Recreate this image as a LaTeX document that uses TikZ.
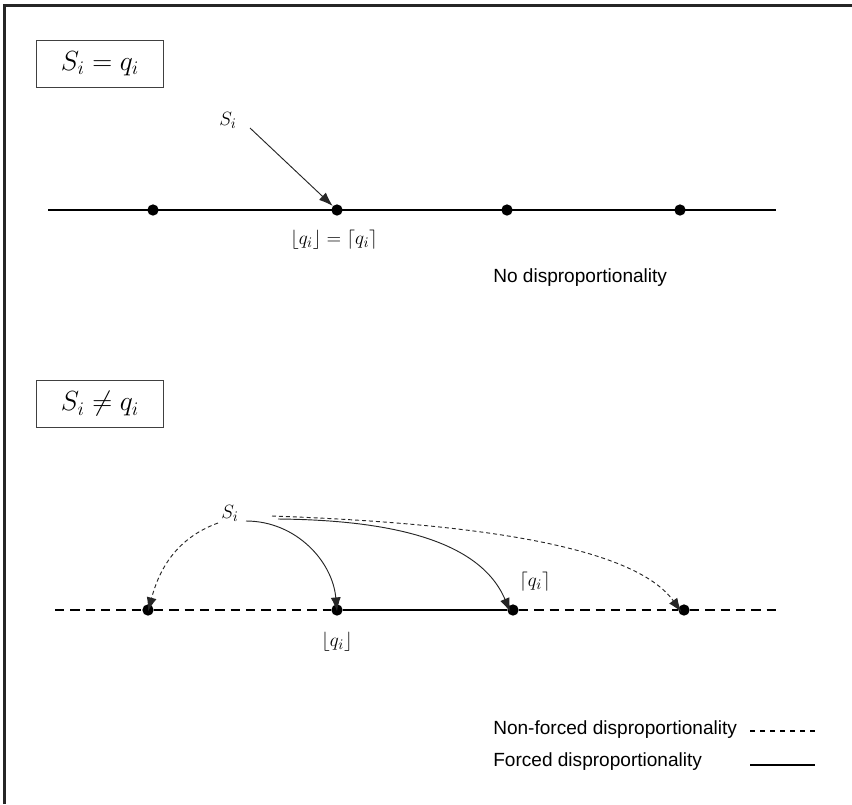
\documentclass[tikz,border=0pt]{standalone}
\usepackage{fontspec}
\newfontfamily\arialfont{Liberation Sans}
\usetikzlibrary{arrows.meta}
\tikzset{
  pt/.style={circle,fill=black,inner sep=0pt,minimum size=8.5},
  mathbox/.style={draw=black!75,line width=0.9pt,minimum width=127*0.75pt,minimum height=47*0.75pt,inner sep=0pt,font=\fontsize{21}{24}\selectfont},
  lbl/.style={inner sep=0pt,font=\fontsize{15.5}{18}\selectfont},
  sans/.style={inner sep=0pt,anchor=west,font=\arialfont\fontsize{14.3}{16}\selectfont},
  arr/.style={-{Latex[length=10.5pt,width=7.5pt]},line width=0.7pt,black!85},
  darr/.style={arr,dash pattern=on 3pt off 2.2pt},
  mainline/.style={line width=1.1pt},
  dline/.style={line width=1.1pt,dash pattern=on 7pt off 4.5pt},
}
\begin{document}
\begin{tikzpicture}[x=0.75pt,y=-0.75pt]
\useasboundingbox (0,0) rectangle (852,804);
\draw[line width=1.6pt,black!85] (4.5,804) -- (4.5,5.5) -- (852,5.5);
% top panel
\node[mathbox] (b1) at (100,64) {$S_i = q_i$};
\draw[mainline] (48,210) -- (776,210);
\node[pt] (a1) at (153,210) {};
\node[pt] (a2) at (337,210) {};
\node[pt] (a3) at (507,210) {};
\node[pt] (a4) at (680,210) {};
\node[lbl] (s1) at (228,120) {$S_i$};
\draw[arr] (250,128) -- (a2);
\node[lbl] (l1) at (334,240) {$\lfloor q_i\rfloor = \lceil q_i\rceil$};
\node[sans] (t1) at (493,278) {No disproportionality};
% bottom panel
\node[mathbox] (b2) at (100,404) {$S_i \neq q_i$};
\node[pt] (c1) at (148,610) {};
\node[pt] (c2) at (337,610) {};
\node[pt] (c3) at (513,610) {};
\node[pt] (c4) at (684,610) {};
\coordinate (L) at (55,610);
\coordinate (R) at (776,610);
\draw[dline] (L) -- (c1) -- (c2);
\draw[dline] (c3) -- (c4) -- (R);
\draw[mainline] (c2) -- (c3);
\node[lbl] (s2) at (230,513) {$S_i$};
\coordinate (o1) at (218,523);
\coordinate (o2) at (246,521);
\coordinate (o3) at (278,519);
\coordinate (o4) at (272,516);
\draw[darr] (o1) to[out=200,in=75] ([yshift=-5.5]c1.north);
\draw[arr] (o2) to[out=0,in=95] ([yshift=-5.5]c2.north);
\draw[arr] (o3) .. controls (390,520) and (480,540) .. ([xshift=-2,yshift=-6]c3.north);
\draw[darr] (o4) .. controls (440,522) and (630,540) .. ([xshift=-2,yshift=-6]c4.north);
\node[lbl] (l2) at (535,582) {$\lceil q_i\rceil$};
\node[lbl] (l3) at (337,642) {$\lfloor q_i\rfloor$};
% legend
\node[sans] (t2) at (493,730) {Non-forced disproportionality};
\node[sans] (t3) at (493,762) {Forced disproportionality};
\coordinate (d1) at (750,731);
\coordinate (d2) at (815,731);
\coordinate (f1) at (750,765);
\coordinate (f2) at (815,765);
\draw[line width=0.9pt,dash pattern=on 4pt off 3.5pt] (d1) -- (d2);
\draw[line width=1.1pt] (f1) -- (f2);
\end{tikzpicture}
\end{document}
